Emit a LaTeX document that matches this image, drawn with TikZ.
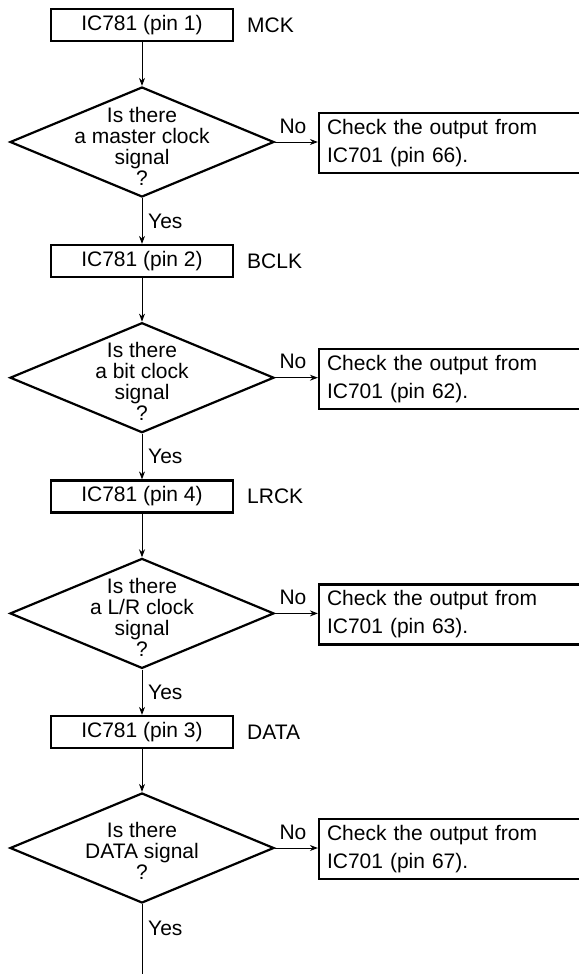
\documentclass[tikz,border=0pt]{standalone}
\usepackage{fontspec}
\setmainfont{Liberation Sans}
\usetikzlibrary{shapes.geometric,arrows.meta}
\newcommand\fsA{\fontsize{21bp}{21bp}\selectfont}
\newcommand\fsB{\fontsize{21bp}{28bp}\selectfont}
\tikzset{
  pinbox/.style={draw, line width=2.2bp, minimum width=182bp, minimum height=32bp, inner sep=0pt, font=\fsA},
  dia/.style={diamond, draw, line width=2.2bp, minimum width=264bp, minimum height=110bp, inner sep=0pt},
  diatext/.style={align=center, font=\fsA, inner sep=0pt},
  chk/.style={draw, line width=2.2bp, minimum width=271bp, minimum height=60bp, text width=255bp, align=left, inner xsep=8bp, inner ysep=0pt, font=\fsB},
  lbl/.style={anchor=west, font=\fsA, inner sep=0pt},
  nolbl/.style={font=\fsA, inner sep=0pt},
  arr/.style={line width=1bp, -{Stealth[length=8bp,width=6bp]}},
  plain/.style={line width=1bp},
}
\begin{document}
\begin{tikzpicture}[x=1bp,y=-1bp]
\path[use as bounding box] (0,0) rectangle (579,974);
\clip (0,0) rectangle (579,974);

% unit 1
\node[pinbox] (b1) at (142,25) {IC781 (pin 1)};
\node[lbl] (l1) at (247,25) {MCK};
\node[dia] (d1) at (142,142) {};
\node[diatext] (t1) at (142,146) {Is there\\a master clock\\signal\\?};
\node[chk] (c1) at (454.5,143) {Check the output from\\IC701 (pin 66).};
\node[nolbl] (n1) at (293,126) {No};
\node[lbl] (y1) at (148,221) {Yes};

% unit 2
\node[pinbox] (b2) at (142,261) {IC781 (pin 2)};
\node[lbl] (l2) at (247,261) {BCLK};
\node[dia] (d2) at (142,377.7) {};
\node[diatext] (t2) at (142,381.7) {Is there\\a bit clock\\signal\\?};
\node[chk] (c2) at (454.5,379) {Check the output from\\IC701 (pin 62).};
\node[nolbl] (n2) at (293,361.7) {No};
\node[lbl] (y2) at (148,456.7) {Yes};

% unit 3
\node[pinbox] (b3) at (142,496.5) {IC781 (pin 4)};
\node[lbl] (l3) at (247,496.5) {LRCK};
\node[dia] (d3) at (142,613.4) {};
\node[diatext] (t3) at (142,617.4) {Is there\\a L/R clock\\signal\\?};
\node[chk] (c3) at (454.5,614.4) {Check the output from\\IC701 (pin 63).};
\node[nolbl] (n3) at (293,597.4) {No};
\node[lbl] (y3) at (148,692.4) {Yes};

% unit 4
\node[pinbox] (b4) at (142,732) {IC781 (pin 3)};
\node[lbl] (l4) at (247,732) {DATA};
\node[dia] (d4) at (142,848) {};
\node[diatext] (t4) at (142,851) {Is there\\DATA signal\\?};
\node[chk] (c4) at (454.5,849) {Check the output from\\IC701 (pin 67).};
\node[nolbl] (n4) at (293,832) {No};
\node[lbl] (y4) at (148,928) {Yes};
\coordinate (end) at (142,980);

% connectors
\draw[arr] (b1.south) -- (d1.north);
\draw[arr] (d1.east) -- (d1.east -| c1.west);
\draw[arr] (d1.south) -- (b2.north);
\draw[arr] (b2.south) -- (d2.north);
\draw[arr] (d2.east) -- (d2.east -| c2.west);
\draw[arr] (d2.south) -- (b3.north);
\draw[arr] (b3.south) -- (d3.north);
\draw[arr] (d3.east) -- (d3.east -| c3.west);
\draw[arr] (d3.south) -- (b4.north);
\draw[arr] (b4.south) -- (d4.north);
\draw[arr] (d4.east) -- (d4.east -| c4.west);
\draw[plain] (d4.south) -- (end);
\end{tikzpicture}
\end{document}
